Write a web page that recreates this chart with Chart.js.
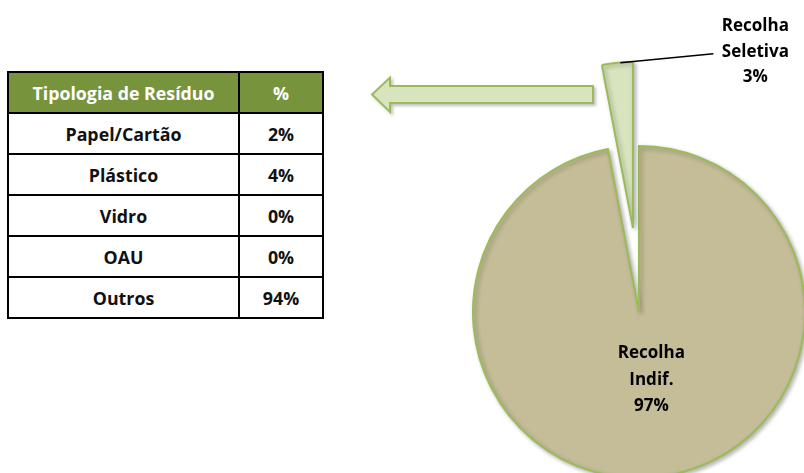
<!DOCTYPE html>
<html>
<head>
<meta charset="utf-8">
<script src="https://cdn.jsdelivr.net/npm/chart.js@4"></script>
<style>
  html, body { margin: 0; padding: 0; background: #fff; }
  #wrap { position: relative; width: 804px; height: 473px; overflow: hidden; font-family: "Open Sans", sans-serif; }
  #wrap canvas { position: absolute; left: 0; top: 0; }
  #tbl { position: absolute; left: 7px; top: 71px; border-collapse: collapse; }
  #tbl th, #tbl td { border: 2px solid #000; height: 39px; padding: 0; text-align: center; font-weight: bold; font-size: 17.8px; color: #111; }
  #tbl th { background: #77933c; color: #fff; }
  #tbl .c1 { width: 229px; }
  #tbl .c2 { width: 82px; }
  #arrow { position: absolute; left: 0; top: 0; }
</style>
</head>
<body>
<div id="wrap">
  <table id="tbl"></table>
  <svg id="arrow" width="804" height="473">
    <defs>
      <filter id="sh" x="-10%" y="-30%" width="130%" height="180%">
        <feDropShadow dx="2" dy="2" stdDeviation="1.5" flood-color="#000" flood-opacity="0.25"/>
      </filter>
    </defs>
    <polygon points="372,94.5 390,77.5 390,86 593,86 593,103 390,103 390,112"
      fill="#d7e4bd" stroke="#9bbb59" stroke-width="2" stroke-linejoin="miter" filter="url(#sh)"/>
  </svg>
  <canvas id="pieMain" width="804" height="473"></canvas>
  <canvas id="pieSel" width="804" height="473"></canvas>
</div>
<script>
// pie data
var categorias = ['Recolha Indif.', 'Recolha Seletiva'];
var valores = [97, 3];
var etiquetas = [['Recolha', 'Indif.', '97%'], ['Recolha', 'Seletiva', '3%']];

// table data
var tipologias = ['Papel/Cartão', 'Plástico', 'Vidro', 'OAU', 'Outros'];
var percentagens = ['2%', '4%', '0%', '0%', '94%'];

var corIndif = '#c4bd97';
var corSel = '#d7e4bd';
var corBorda = '#9bbb59';
var fonte = 'bold 17px "Open Sans", sans-serif';

// build the table
var tbl = document.getElementById('tbl');
var html = '<tr><th class="c1">Tipologia de Resíduo</th><th class="c2">%</th></tr>';
for (var i in tipologias) {
  html += '<tr><td class="c1">' + tipologias[i] + '</td><td class="c2">' + percentagens[i] + '</td></tr>';
}
tbl.innerHTML = html;

var sombra = {
  id: 'sombra',
  beforeDatasetsDraw: function(chart) {
    var ctx = chart.ctx;
    ctx.save();
    ctx.shadowColor = 'rgba(0,0,0,0.28)';
    ctx.shadowBlur = 4;
    ctx.shadowOffsetX = 2;
    ctx.shadowOffsetY = 2;
  },
  afterDatasetsDraw: function(chart) {
    chart.ctx.restore();
  }
};

function linhas(ctx, txt, x, y, lh) {
  ctx.fillStyle = '#000';
  ctx.font = fonte;
  ctx.textAlign = 'center';
  ctx.textBaseline = 'middle';
  var y0 = y - (txt.length - 1) * lh / 2;
  for (var k = 0; k < txt.length; k++) ctx.fillText(txt[k], x, y0 + k * lh);
}

// label inside the big slice
var rotuloIndif = {
  id: 'rotuloIndif',
  afterDraw: function(chart) {
    var arc = chart.getDatasetMeta(0).data[0];
    var mid = (arc.startAngle + arc.endAngle) / 2;
    var x = arc.x + Math.cos(mid) * arc.outerRadius * 0.41 + 6;
    var y = arc.y + Math.sin(mid) * arc.outerRadius * 0.41;
    linhas(chart.ctx, etiquetas[0], x, y, 26.5);
  }
};

// leader line + label for the exploded slice
var rotuloSel = {
  id: 'rotuloSel',
  afterDraw: function(chart) {
    var ctx = chart.ctx;
    var arc = chart.getDatasetMeta(0).data[1];
    var mid = (arc.startAngle + arc.endAngle) / 2;
    var x1 = arc.x + Math.cos(mid) * arc.outerRadius + 3;
    var y1 = arc.y + Math.sin(mid) * arc.outerRadius;
    ctx.save();
    ctx.strokeStyle = '#000';
    ctx.lineWidth = 1.5;
    ctx.beginPath();
    ctx.moveTo(x1, y1);
    ctx.lineTo(x1 + 93, y1 - 9);
    ctx.stroke();
    ctx.restore();
    linhas(ctx, etiquetas[1], x1 + 135, y1 - 11, 25.5);
  }
};

function pie(id, visivel, padding, plugins) {
  return new Chart(document.getElementById(id), {
    type: 'pie',
    data: {
      labels: categorias,
      datasets: [{
        data: valores,
        backgroundColor: [visivel === 0 ? corIndif : 'rgba(0,0,0,0)', visivel === 1 ? corSel : 'rgba(0,0,0,0)'],
        borderColor: corBorda,
        borderWidth: [visivel === 0 ? 2 : 0, visivel === 1 ? 2 : 0],
        borderJoinStyle: 'miter',
        radius: 166,
        clip: false
      }]
    },
    options: {
      responsive: false,
      animation: false,
      layout: { padding: padding },
      plugins: { legend: { display: false }, tooltip: { enabled: false } }
    },
    plugins: plugins
  });
}

// main pie centred at (639,312), exploded slice centred at (633,228)
pie('pieMain', 0, { left: 474, top: 151, right: 0, bottom: 0 }, [sombra, rotuloIndif]);
pie('pieSel', 1, { left: 462, top: 0, right: 0, bottom: 17 }, [sombra, rotuloSel]);
</script>
</body>
</html>
